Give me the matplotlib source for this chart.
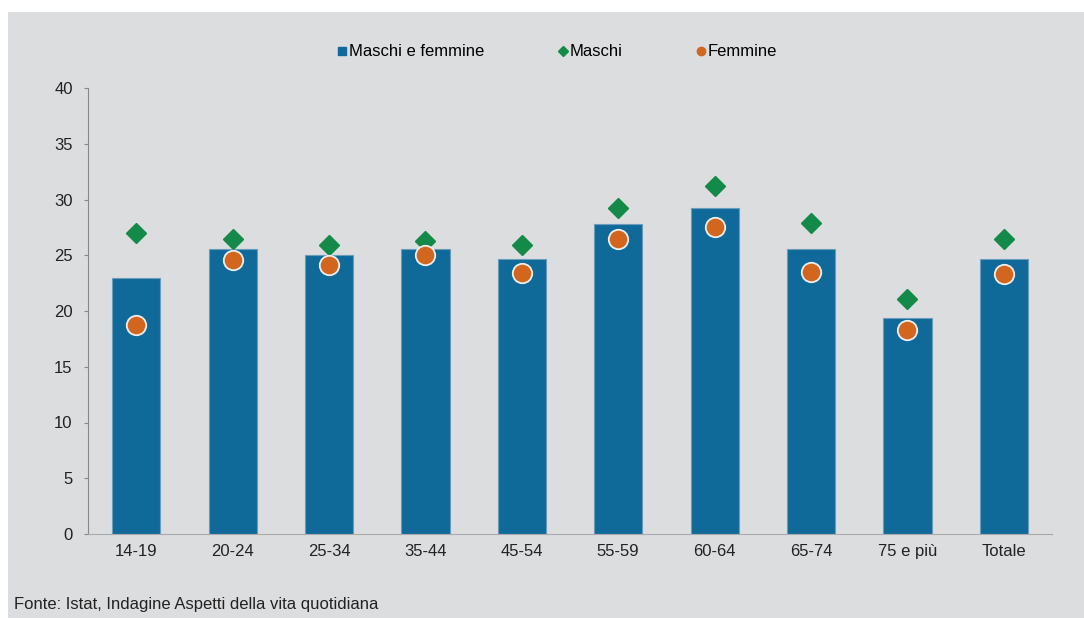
import matplotlib.pyplot as plt
from matplotlib.lines import Line2D
from matplotlib.patches import Rectangle
import numpy as np

# Data
categories = ['14-19', '20-24', '25-34', '35-44', '45-54', '55-59', '60-64', '65-74', '75 e più', 'Totale']
totale = [23.0, 25.6, 25.0, 25.6, 24.7, 27.8, 29.2, 25.6, 19.4, 24.7]
maschi = [27.0, 26.5, 25.9, 26.3, 25.9, 29.2, 31.2, 27.9, 21.1, 26.5]
femmine = [18.7, 24.6, 24.1, 25.0, 23.4, 26.5, 27.5, 23.5, 18.3, 23.3]

plt.rcParams['font.family'] = ['Liberation Sans', 'DejaVu Sans']

bg = '#dcdddf'
blue = '#0f6a99'
green = '#138a48'
orange = '#d2661e'

fig = plt.figure(figsize=(10.84, 6.18), dpi=100)
fig.patch.set_facecolor('white')
# gray panel (white strip at top and left)
fig.patches.append(Rectangle((8 / 1084, 0), 1, 1 - 12 / 618, transform=fig.transFigure,
                             facecolor=bg, edgecolor='none', zorder=-10))

ax = fig.add_axes([88 / 1084, 84 / 618, (1052 - 88) / 1084, (534 - 88) / 618])
ax.set_facecolor(bg)

x = np.arange(len(categories))
ax.bar(x, totale, width=0.5, color=blue, edgecolor='#6a9cbc', linewidth=0.8, zorder=2)
ax.plot(x, maschi, linestyle='none', marker='D', markersize=10, color=green, zorder=3)
ax.plot(x, femmine, linestyle='none', marker='o', markersize=14, color=orange,
        markeredgecolor='#eeeeee', markeredgewidth=1.3, zorder=4)

ax.set_xlim(-0.5, len(categories) - 0.5)
ax.set_ylim(0, 40)
ax.set_yticks(range(0, 41, 5))
ax.set_xticks(x)
ax.set_xticklabels(categories)
ax.tick_params(axis='y', length=3, color='#888888', labelsize=12, labelcolor='#222222', pad=8)
ax.tick_params(axis='x', length=0, labelsize=12, labelcolor='#222222', pad=7)
for s in ['top', 'right']:
    ax.spines[s].set_visible(False)
ax.spines['left'].set_color('#888888')
ax.spines['bottom'].set_color('#aaaaaa')

handles = [
    Line2D([], [], linestyle='none', marker='s', markersize=6, color=blue),
    Line2D([], [], linestyle='none', marker='D', markersize=5, color=green),
    Line2D([], [], linestyle='none', marker='o', markersize=6, color=orange),
]
fig.legend(handles, ['Maschi e femmine', 'Maschi', 'Femmine'], loc='center',
           bbox_to_anchor=(557 / 1084, 1 - 52 / 618), ncol=3, frameon=False,
           handlelength=0.6, handletextpad=0.1, columnspacing=4.4, fontsize=12)

fig.text(14 / 1084, 1 - 604 / 618, 'Fonte: Istat, Indagine Aspetti della vita quotidiana',
         fontsize=12, color='#222222', va='center', ha='left')

fig.savefig('out.png', dpi=100, facecolor=fig.get_facecolor())
